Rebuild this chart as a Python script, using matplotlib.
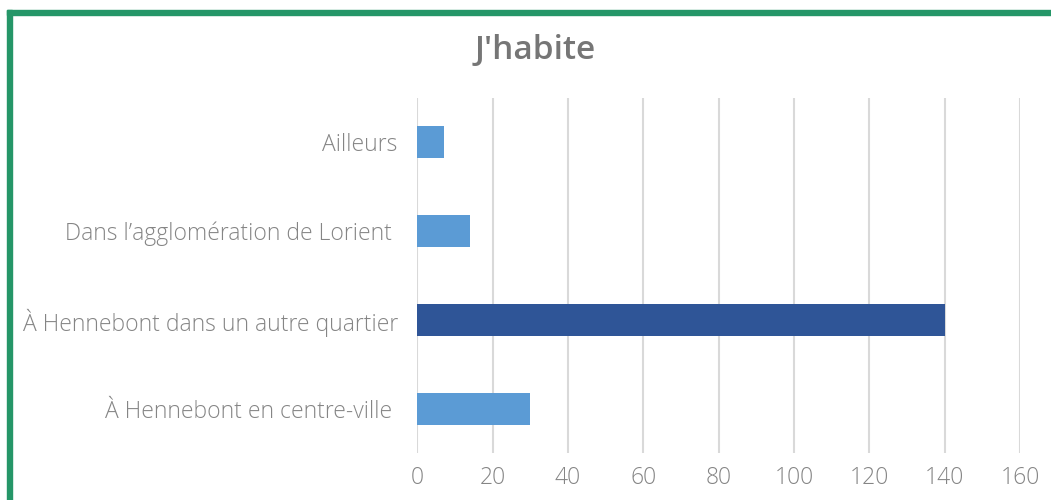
import matplotlib
matplotlib.use("Agg")
import matplotlib.pyplot as plt
from matplotlib.patches import Rectangle

categories = ["À Hennebont en centre-ville ", "À Hennebont dans un autre quartier",
              "Dans l’agglomération de Lorient ", "Ailleurs"]
values = [30, 140, 14, 7]
bar_colors = ["#5B9BD5", "#2F5597", "#5B9BD5", "#5B9BD5"]
xticks = [0, 20, 40, 60, 80, 100, 120, 140, 160]
title = "J'habite"

W, H = 1051, 500
fig = plt.figure(figsize=(W / 100, H / 100), dpi=100)
fig.patch.set_facecolor("white")

ax = fig.add_axes([417.3 / W, 1 - 453 / H, (1020 - 417.3) / W, (453 - 98) / H])
ax.barh(range(len(categories)), values, height=0.36, color=bar_colors, zorder=3)
ax.set_xlim(0, 160)
ax.set_ylim(-0.5, len(categories) - 0.5)
ax.set_xticks(xticks)
ax.set_yticks(range(len(categories)))
ax.set_yticklabels(categories)
ax.grid(axis="x", color="#D9D9D9", linewidth=1.5, zorder=0)
for s in ax.spines.values():
    s.set_visible(False)
ax.tick_params(axis="both", length=0, labelcolor="#858585", labelsize=16.5)
ax.tick_params(axis="y", pad=14)
ax.tick_params(axis="x", pad=9)
for lab in ax.get_xticklabels() + ax.get_yticklabels():
    lab.set_fontfamily("Open Sans")
    lab.set_fontweight("light")

fig.text(535 / W, 1 - 51 / H, title, ha="center", va="center", fontsize=24,
         fontweight="semibold", color="#767676", family="Open Sans")

green = "#259668"
fig.add_artist(Rectangle((7 / W, 0), 5 / W, 1 - 10 / H, transform=fig.transFigure,
                         color=green, zorder=10))
fig.add_artist(Rectangle((7 / W, 1 - 15 / H), 1, 5 / H, transform=fig.transFigure,
                         color=green, zorder=10))

fig.savefig("out.png", dpi=100)
